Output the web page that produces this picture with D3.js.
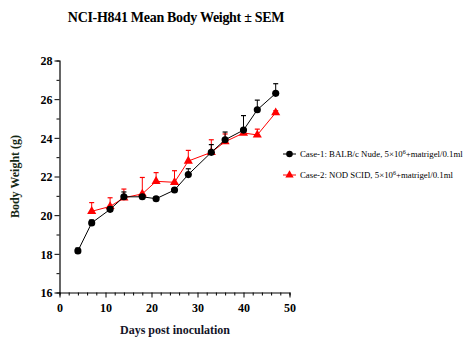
<!DOCTYPE html>
<html><head><meta charset="utf-8">
<script src="https://cdn.jsdelivr.net/npm/d3@7/dist/d3.min.js"></script>
<style>body{margin:0;background:#fff}svg{display:block}text{font-family:"Liberation Serif","Times New Roman",serif}</style>
</head><body><svg id="c" width="469" height="364"></svg>
<script>
const days1 = [4, 7, 11, 14, 18, 21, 25, 28, 33, 36, 40, 43, 47];
const case1 = [18.15, 19.6, 20.3, 20.95, 20.95, 20.85, 21.3, 22.1, 23.25, 23.9, 24.4, 25.45, 26.3];
const sem1  = [0.15, 0.15, 0.12, 0.25, 0.1, 0.1, 0.1, 0.3, 0.4, 0.4, 0.75, 0.5, 0.5];
const days2 = [7, 11, 14, 18, 21, 25, 28, 33, 36, 40, 43, 47];
const case2 = [20.2, 20.45, 20.9, 21.1, 21.75, 21.7, 22.8, 23.25, 23.8, 24.25, 24.15, 25.3];
const sem2  = [0.45, 0.45, 0.45, 0.85, 0.45, 0.6, 0.55, 0.65, 0.4, 0.1, 0.3, 0.1];
const xTicks = [0, 10, 20, 30, 40, 50];
const yTicks = [16, 18, 20, 22, 24, 26, 28];
const title = "NCI-H841 Mean Body Weight \u00b1 SEM";
const legend1 = ["Case-1: BALB/c Nude, 5\u00d710", "6", "+matrigel/0.1ml"];
const legend2 = ["Case-2: NOD SCID, 5\u00d710", "6", "+matrigel/0.1ml"];

const svg = d3.select("#c");
const x = d3.scaleLinear().domain([0, 50]).range([59.5, 289.5]);
const y = d3.scaleLinear().domain([16, 28]).range([292.5, 60.5]);

svg.append("text").attr("x", 176).attr("y", 22).attr("text-anchor", "middle")
  .attr("font-size", 14).attr("font-weight", "bold").attr("letter-spacing", -0.3).text(title);

// axes
const xa = svg.append("g").attr("transform", `translate(0,${y(16)})`);
xa.call(d3.axisBottom(x).tickValues(d3.range(0, 51, 2)).tickSize(3).tickFormat(""));
xa.call(g => g.selectAll(".tick").filter(d => xTicks.includes(d)).select("line").attr("y2", 5));
xa.selectAll(".tick text").remove();
xa.selectAll(".tick").filter(d => xTicks.includes(d)).append("text").attr("y", 19)
  .attr("text-anchor", "middle").attr("fill", "#000").attr("font-size", 12).attr("font-weight", "bold")
  .text(d => d);

const ya = svg.append("g").attr("transform", `translate(${x(0)},0)`);
ya.call(d3.axisLeft(y).tickValues(d3.range(16, 28.01, 1)).tickSize(3).tickFormat(""));
ya.call(g => g.selectAll(".tick").filter(d => yTicks.includes(d)).select("line").attr("x2", -5));
ya.selectAll(".tick").filter(d => yTicks.includes(d)).append("text").attr("x", -7).attr("dy", "0.35em")
  .attr("text-anchor", "end").attr("fill", "#000").attr("font-size", 12).attr("font-weight", "bold")
  .text(d => d);
svg.selectAll(".domain").attr("stroke-width", 1.2);
svg.selectAll(".tick line").attr("stroke-width", 1);

svg.append("text").attr("transform", `translate(19,${y(22)}) rotate(-90)`).attr("text-anchor", "middle")
  .attr("font-size", 12).attr("font-weight", "bold").attr("fill", "#142814").text("Body Weight (g)");
svg.append("text").attr("x", 175).attr("y", 334).attr("text-anchor", "middle")
  .attr("font-size", 12).attr("font-weight", "bold").attr("fill", "#141428").text("Days post inoculation");

function series(days, vals, sems, color, shape) {
  const data = days.map((d, i) => ({d, v: vals[i], s: sems[i]}));
  const g = svg.append("g");
  g.selectAll("line.eb").data(data).join("line").attr("x1", p => x(p.d)).attr("x2", p => x(p.d))
    .attr("y1", p => y(p.v)).attr("y2", p => y(p.v + p.s)).attr("stroke", color).attr("stroke-width", 1);
  g.selectAll("line.cap").data(data).join("line").attr("x1", p => x(p.d) - 2.5).attr("x2", p => x(p.d) + 2.5)
    .attr("y1", p => y(p.v + p.s)).attr("y2", p => y(p.v + p.s)).attr("stroke", color).attr("stroke-width", 1.2);
  g.append("path").datum(data).attr("fill", "none").attr("stroke", color).attr("stroke-width", 1)
    .attr("d", d3.line().x(p => x(p.d)).y(p => y(p.v)));
  g.selectAll("path.m").data(data).join("path")
    .attr("d", d3.symbol().type(shape).size(shape === d3.symbolCircle ? 40 : 36))
    .attr("transform", p => `translate(${x(p.d)},${y(p.v)})`).attr("fill", color);
}
series(days2, case2, sem2, "#ff0000", d3.symbolTriangle);
series(days1, case1, sem1, "#000000", d3.symbolCircle);

function legendItem(yy, color, shape, parts) {
  svg.append("line").attr("x1", 283).attr("x2", 296).attr("y1", yy).attr("y2", yy).attr("stroke", color);
  svg.append("path").attr("d", d3.symbol().type(shape).size(shape === d3.symbolCircle ? 34 : 30))
    .attr("transform", `translate(289.5,${yy})`).attr("fill", color);
  const t = svg.append("text").attr("x", 300).attr("y", yy + 3).attr("font-size", 8.8).attr("fill", "#000");
  t.append("tspan").text(parts[0]);
  t.append("tspan").attr("dy", -3.5).attr("font-size", 6).text(parts[1]);
  t.append("tspan").attr("dy", 3.5).text(parts[2]);
}
legendItem(154, "#000", d3.symbolCircle, legend1);
legendItem(175, "#ff0000", d3.symbolTriangle, legend2);
</script></body></html>
